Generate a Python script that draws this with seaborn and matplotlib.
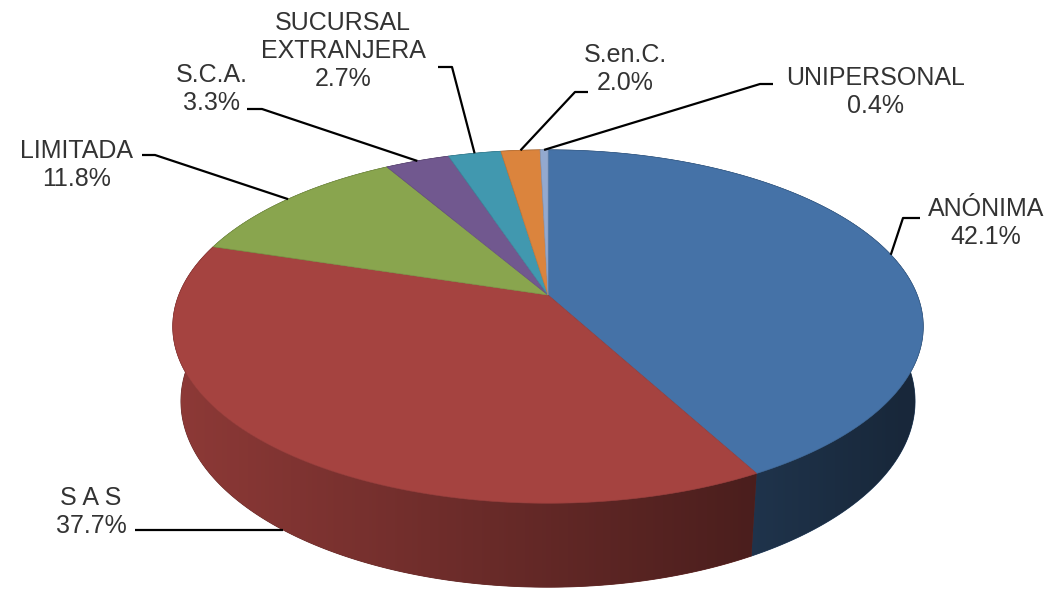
import numpy as np
import matplotlib
matplotlib.use("Agg")
import matplotlib.pyplot as plt
from matplotlib.patches import Polygon
import seaborn as sns

# --- data ---
categories = ["ANÓNIMA", "S A S", "LIMITADA", "S.C.A.", "SUCURSAL\nEXTRANJERA", "S.en.C.", "UNIPERSONAL"]
shares = [42.1, 37.7, 11.8, 3.3, 2.7, 2.0, 0.4]
slice_colors = ["#4572A7", "#A54340", "#89A54E", "#71588F", "#4198AF", "#DB843D", "#93A9CF"]

# --- label layout (pixels) ---
label_pos = [(986, 223), (91, 512), (77, 165), (212, 89), (343, 51), (625, 69), (876, 92)]
stub_x = [920, 135, 142, 247, 438, 588, 773]
elbow = [(903, 218), None, (155, 155), (262, 109), (452, 67), (575, 92), (760, 84)]
anchor_on_base = [False, True, False, False, False, False, False]

# --- fake 3D projection of the pie disc ---
W, H = 1062, 590
cx, cy = 548, 295          # where the pie centre lands on screen
scale = 1831.0
dist = 4.96
tilt = np.radians(27.6)
cos_t, sin_t = np.cos(tilt), np.sin(tilt)
thick = 0.23


def project(phi_deg, w=0.0):
    phi = np.radians(phi_deg)
    X = np.cos(phi)
    Z = np.sin(phi)
    y3 = Z * sin_t + w * cos_t
    d = dist + Z * cos_t - w * sin_t
    return cx + scale * X / d, cy - scale * y3 / d


sns.set_theme(style="white")
plt.rcParams['font.family'] = ['Liberation Sans', 'DejaVu Sans']

palette = sns.color_palette(slice_colors)

fig = plt.figure(figsize=(10.62, 5.9), dpi=100)
ax = fig.add_axes([0, 0, 1, 1])
ax.set_xlim(0, W)
ax.set_ylim(H, 0)
ax.axis("off")

cum = np.concatenate([[0], np.cumsum(shares)]) / 100.0
starts = 90 - 360 * cum[:-1]
ends = 90 - 360 * cum[1:]

# horizontal light falloff on the side wall (lighter on the left)
xcol = np.arange(W) + 0.5
falloff = np.clip(0.85 - 0.0007 * (xcol - 185), 0.35, 0.9)

# side walls, back slices first
order = np.argsort([np.sin(np.radians((s + e) / 2)) for s, e in zip(starts, ends)])[::-1]
for i in order:
    rgb = np.array(palette[i])
    n = max(3, int(abs(ends[i] - starts[i])) * 2 + 2)
    angs = np.linspace(starts[i], ends[i], n)
    top = [project(a) for a in angs]
    bot = [project(a, -thick) for a in angs[::-1]]
    base = Polygon(top + bot, closed=True, facecolor=rgb * 0.6,
                   edgecolor=rgb * 0.6, linewidth=0.6, zorder=2)
    ax.add_patch(base)
    grad = (falloff[None, :, None] * rgb[None, None, :]).clip(0, 1)
    im = ax.imshow(grad, extent=[0, W, H, 0], aspect="auto",
                   interpolation="bilinear", zorder=2.1)
    im.set_clip_path(base)

ax.set_xlim(0, W)
ax.set_ylim(H, 0)

# top faces
for i, rgb in enumerate(palette):
    n = max(3, int(abs(ends[i] - starts[i])) * 2 + 2)
    angs = np.linspace(starts[i], ends[i], n)
    pts = [(cx, cy)] + [project(a) for a in angs]
    edge = tuple(np.array(rgb) * 0.9)
    ax.add_patch(Polygon(pts, closed=True, facecolor=rgb, edgecolor=edge,
                         linewidth=0.5, zorder=3))

# labels with leader lines
for i, name in enumerate(categories):
    mid = (starts[i] + ends[i]) / 2
    ax_, ay_ = project(mid, -thick if anchor_on_base[i] else 0.0)
    if elbow[i] is None:
        xs = [stub_x[i], ax_]
        ys = [ay_, ay_]
    else:
        ex, ey = elbow[i]
        xs = [stub_x[i], ex, ax_]
        ys = [ey, ey, ay_]
    ax.plot(xs, ys, color="black", lw=1.6, solid_capstyle="butt", zorder=4)
    tx, ty = label_pos[i]
    ax.text(tx, ty, f"{name}\n{shares[i]:.1f}%", ha="center", va="center",
            multialignment="center", fontsize=18, color="#333333",
            linespacing=1.2, zorder=5)

fig.savefig("out.png", dpi=100)
